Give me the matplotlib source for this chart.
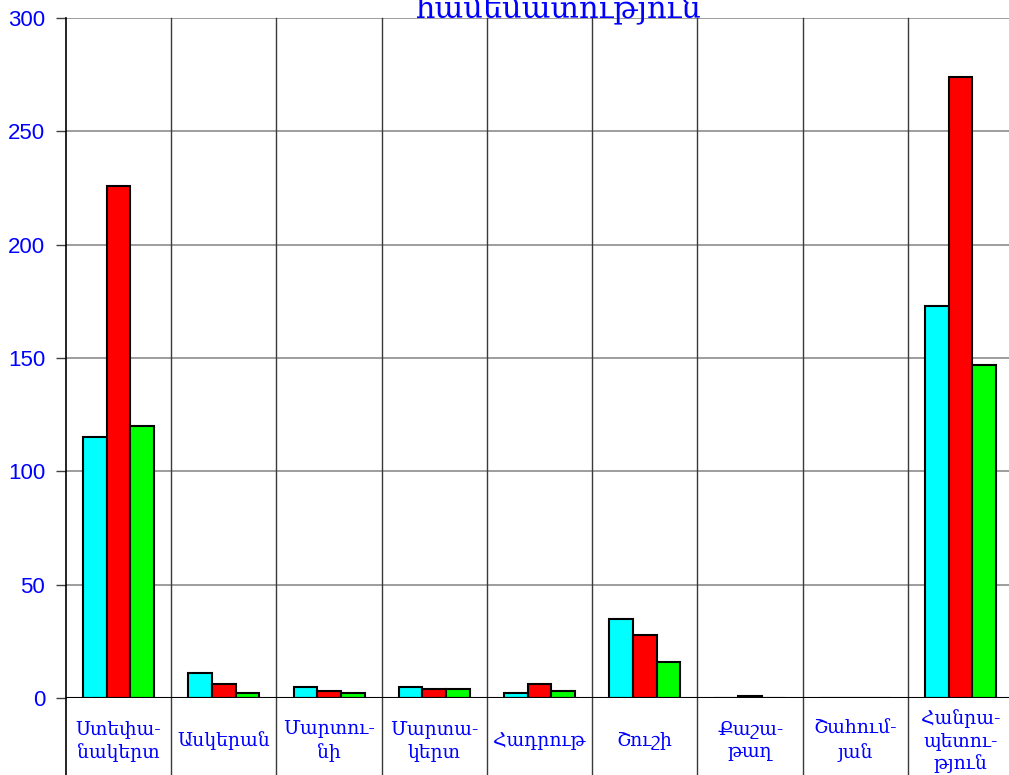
import matplotlib
matplotlib.use("Agg")
import matplotlib.pyplot as plt
import matplotlib.transforms as mtransforms

# data
categories = ["Ստեփա-\nնակերտ", "Ասկերան", "Մարտու-\nնի", "Մարտա-\nկերտ", "Հադրութ",
              "Շուշի", "Քաշա-\nթաղ", "Շահում-\nյան", "Հանրա-\nպետու-\nթյուն"]
series_cyan = [115, 11, 5, 5, 2, 35, 0, 0, 173]
series_red = [226, 6, 3, 4, 6, 28, 1, 0, 274]
series_green = [120, 2, 2, 4, 3, 16, 0, 0, 147]
y_ticks = [0, 50, 100, 150, 200, 250, 300]
title = "համեմատություն"

W, H = 1009, 775
fig = plt.figure(figsize=(W / 100, H / 100), dpi=100)
ax = fig.add_axes([66 / W, 1 - 698 / H, (1013 - 66) / W, 680 / H])

n = len(categories)
bw = 0.225
xs = [i + 0.5 for i in range(n)]
for off, vals, col in [(-bw, series_cyan, "#00ffff"), (0, series_red, "#ff0000"),
                       (bw, series_green, "#00ff00")]:
    ax.bar([x + off for x in xs], vals, width=bw, color=col, edgecolor="black",
           linewidth=1.5, zorder=3)

ax.set_xlim(0, n)
ax.set_ylim(0, 300)

# horizontal grid
for t in y_ticks[1:]:
    ax.axhline(t, color="#8c8c8c", lw=1.2, zorder=1)

# vertical separators running down through the label area
below = -77 / 680
for i in range(1, n):
    ax.axvline(i, ymin=below, ymax=1, color="#3a3a3a", lw=1, clip_on=False, zorder=1)
ax.axvline(0, ymin=below, ymax=1, color="black", lw=1.2, clip_on=False, zorder=4)
ax.axhline(0, color="black", lw=1.5, zorder=4)

for s in ax.spines.values():
    s.set_visible(False)
ax.set_xticks([])
ax.set_yticks(y_ticks)
ax.tick_params(axis="y", length=7, width=1, color="#404040", direction="out", pad=8,
               labelsize=16, labelcolor="#0000ff")
for lab in ax.get_yticklabels():
    lab.set_family("Liberation Sans")

trans = mtransforms.blended_transform_factory(ax.transData, fig.transFigure)
for x, name in zip(xs, categories):
    ax.text(x, 1 - 741 / H, name, transform=trans, ha="center", va="center",
            color="#0000ff", fontsize=13.5, linespacing=1.3,
            family=["DejaVu Serif", "DejaVu Sans"])

fig.text(558 / W, 1 - 17 / H, title, ha="center", va="baseline", color="#0000ff",
         fontsize=22, family=["DejaVu Serif", "DejaVu Sans"])

fig.savefig("out.png", dpi=100)
